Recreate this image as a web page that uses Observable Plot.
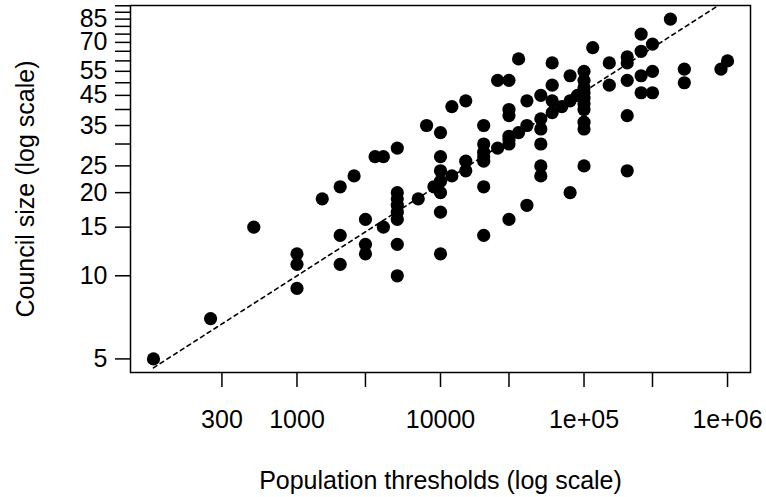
<!DOCTYPE html>
<html><head><meta charset="utf-8">
<script src="https://cdn.jsdelivr.net/npm/d3@7"></script>
<script src="https://cdn.jsdelivr.net/npm/@observablehq/plot@0.6"></script>
<style>
html,body{margin:0;padding:0;background:#fff;}
</style></head><body><div id="chart"></div>
<script>
// Population thresholds (x) and council sizes (y)
const population = [
  100, 250, 500,
  1000, 1000, 1000,
  1500,
  2000, 2000, 2000,
  2500,
  3000, 3000, 3000,
  3500, 4000, 4000,
  5000, 5000, 5000, 5000, 5000, 5000, 5000, 5000,
  7000, 8000, 9000,
  10000, 10000, 10000, 10000, 10000, 10000, 10000,
  12000, 12000,
  15000, 15000, 15000,
  20000, 20000, 20000, 20000, 20000, 20000, 20000,
  25000, 25000,
  30000, 30000, 30000, 30000, 30000, 30000, 30000,
  35000, 35000,
  40000, 40000, 40000,
  50000, 50000, 50000, 50000, 50000, 50000,
  60000, 60000, 60000, 60000,
  70000,
  80000, 80000, 80000,
  90000,
  100000, 100000, 100000, 100000, 100000, 100000, 100000, 100000, 100000, 100000,
  115000,
  150000, 150000,
  200000, 200000, 200000, 200000, 200000,
  250000, 250000, 250000, 250000,
  300000, 300000, 300000,
  400000,
  500000, 500000,
  900000, 1000000
];
const councilSize = [
  5, 7, 15,
  12, 11, 9,
  19,
  21, 14, 11,
  23,
  16, 13, 12,
  27, 27, 15,
  29, 20, 19, 18, 17, 16, 13, 10,
  19, 35, 21,
  33, 27, 24, 22, 20, 17, 12,
  41, 23,
  43, 26, 24,
  35, 30, 28, 27, 26, 21, 14,
  51, 29,
  51, 40, 38, 32, 31, 30, 16,
  61, 33,
  43, 35, 18,
  45, 37, 34, 30, 25, 23,
  59, 49, 43, 39,
  41,
  53, 43, 20,
  45,
  55, 51, 48, 46, 44, 42, 40, 36, 34, 25,
  67,
  59, 49,
  62, 59, 51, 38, 24,
  75, 65, 53, 46,
  69, 55, 46,
  85,
  56, 50,
  56, 60
];

// Axis ticks and labels ("" = tick without label)
const xTicks = [300, 1000, 3000, 10000, 30000, 100000, 300000, 1000000];
const xTickLabels = ["300", "1000", "", "10000", "", "1e+05", "", "1e+06"];
const yTicks = [5, 10, 15, 20, 25, 30, 35, 40, 45, 50, 55, 60, 65, 70, 75, 80, 85, 90, 95];
const yTickLabels = ["5", "10", "15", "20", "25", "", "35", "", "45", "", "55", "", "", "70", "", "", "85", "", ""];

// Reference line: council size = population^(1/3), over the population range
const lineX = [100, 1000000];

const points = population.map((p, i) => ({p, s: councilSize[i]}));
const model = lineX.map(p => ({p, s: Math.cbrt(p)}));
const xLabels = xTicks.map((t, i) => ({t, label: xTickLabels[i]})).filter(d => d.label !== "");
const yLabels = yTicks.map((t, i) => ({t, label: yTickLabels[i]})).filter(d => d.label !== "");

const font = "'Liberation Sans', Arial, Helvetica, sans-serif";

const chart = Plot.plot({
  width: 766,
  height: 497,
  marginLeft: 130,
  marginRight: 16,
  marginTop: 5,
  marginBottom: 125,
  style: {fontFamily: font, fontSize: "25px", color: "black", background: "white"},
  x: {type: "log", domain: [Math.pow(10, 1.84), Math.pow(10, 6.16)]},
  y: {type: "log", domain: [4.4643, 95.21]},
  marks: [
    Plot.frame({stroke: "black", strokeWidth: 1.5}),
    Plot.line(model, {x: "p", y: "s", stroke: "black", strokeWidth: 1.6, strokeDasharray: "4,4", clip: true}),
    Plot.dot(points, {x: "p", y: "s", r: 6.6, fill: "black", stroke: "none"}),
    Plot.axisX({
      ticks: xTicks,
      tickFormat: () => "",
      tickSize: 15,
      tickPadding: 23,
      strokeWidth: 1.5,
      fontSize: 25,
      label: "Population thresholds (log scale)",
      labelAnchor: "center",
      labelArrow: "none",
      labelOffset: 116
    }),
    Plot.axisY({
      ticks: yTicks,
      tickFormat: () => "",
      tickSize: 15,
      tickPadding: 8,
      strokeWidth: 1.5,
      fontSize: 25,
      label: "Council size (log scale)",
      labelAnchor: "center",
      labelArrow: "none",
      labelOffset: 114
    }),
    Plot.text(xLabels, {x: "t", text: "label", frameAnchor: "bottom", lineAnchor: "top", dy: 38, fontSize: 25, fill: "black"}),
    Plot.text(yLabels, {y: "t", text: "label", frameAnchor: "left", textAnchor: "end", lineAnchor: "middle", dx: -23, fontSize: 25, fill: "black"})
  ]
});
document.getElementById("chart").appendChild(chart);
</script>
</body></html>
